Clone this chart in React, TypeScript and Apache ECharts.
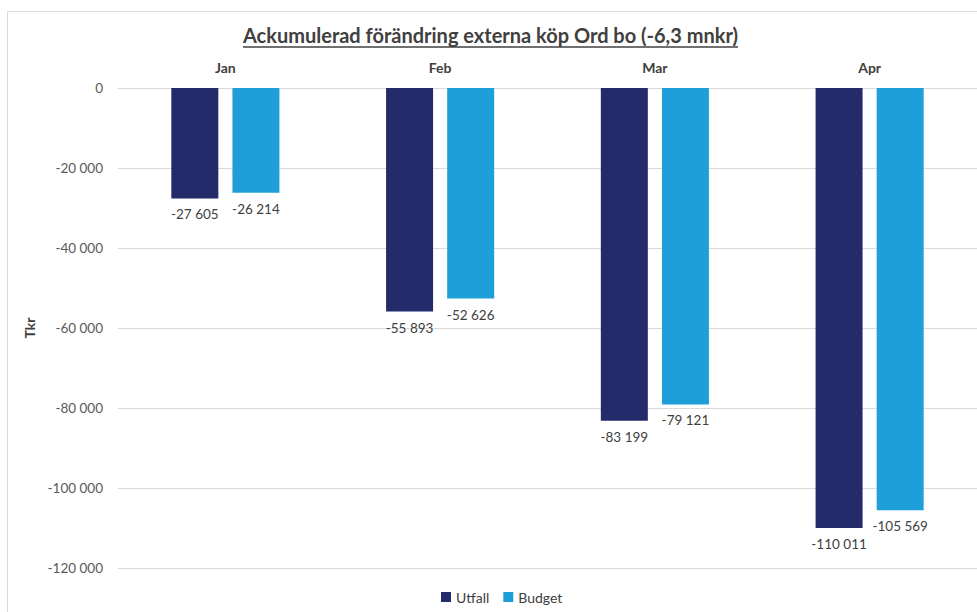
import React, { useEffect, useRef } from "react";
import * as echarts from "echarts";

const categories = ["Jan", "Feb", "Mar", "Apr"];
const utfall = [-27605, -55893, -83199, -110011];
const budget = [-26214, -52626, -79121, -105569];
const seriesNames = ["Utfall", "Budget"];
const titleText = "Ackumulerad förändring externa köp Ord bo (-6,3 mnkr)";
const yAxisName = "Tkr";

const FONT = "Lato";
const TITLE_SIZE = 20;

function fmt(v: number): string {
  const neg = v < 0;
  const s = Math.round(Math.abs(v)).toString();
  const grouped = s.replace(/\B(?=(\d{3})+(?!\d))/g, " ");
  return (neg ? "-" : "") + grouped;
}

export default function App() {
  const ref = useRef<HTMLDivElement>(null);
  useEffect(() => {
    if (!ref.current) return;
    const chart = echarts.init(ref.current, undefined, { renderer: "svg" });
    const ctx = document.createElement("canvas").getContext("2d");
    let tw = 500;
    if (ctx) {
      ctx.font = `bold ${TITLE_SIZE}px ${FONT}`;
      tw = ctx.measureText(titleText).width;
    }
    const cx = 490.5;
    const x0 = cx - tw / 2;
    const labelCommon = {
      show: true,
      position: "outside",
      distance: 9,
      fontSize: 13.5,
      color: "#404040",
      fontFamily: FONT,
      formatter: (p: any) => fmt(p.value),
    };
    chart.setOption({
      animation: false,
      backgroundColor: "#ffffff",
      textStyle: { fontFamily: FONT },
      graphic: [
        {
          type: "rect",
          shape: { x: 7.5, y: 11.5, width: 1100, height: 800 },
          style: { fill: "none", stroke: "#D9D9D9", lineWidth: 1 },
          silent: true,
        },
        {
          type: "text",
          x: cx,
          y: 35,
          style: {
            text: titleText,
            fontSize: TITLE_SIZE,
            fontWeight: "bold",
            fontFamily: FONT,
            fill: "#404040",
            align: "center",
            verticalAlign: "middle",
          },
          silent: true,
        },
        {
          type: "line",
          shape: { x1: x0, y1: 47, x2: x0 + tw, y2: 47 },
          style: { stroke: "#404040", lineWidth: 1.3 },
          silent: true,
        },
      ],
      legend: {
        data: seriesNames,
        top: 590,
        left: 441,
        padding: 0,
        itemWidth: 10,
        itemHeight: 10,
        itemGap: 14,
        icon: "rect",
        textStyle: { fontSize: 14, color: "#404040", fontFamily: FONT },
      },
      grid: { left: 118, right: 0, top: 88, bottom: 44, containLabel: false },
      xAxis: {
        type: "category",
        data: categories,
        position: "top",
        axisLine: { show: true, lineStyle: { color: "#D9D9D9" } },
        axisTick: { show: false },
        axisLabel: { fontSize: 14, fontWeight: "bold", color: "#404040", margin: 14, fontFamily: FONT },
      },
      yAxis: {
        type: "value",
        min: -120000,
        max: 0,
        interval: 20000,
        name: yAxisName,
        nameLocation: "middle",
        nameRotate: 90,
        nameGap: 78,
        nameTextStyle: { fontSize: 14, fontWeight: "bold", color: "#404040", fontFamily: FONT },
        axisLine: { show: false },
        axisTick: { show: false },
        splitLine: { lineStyle: { color: "#D9D9D9" } },
        axisLabel: { fontSize: 13.5, color: "#595959", margin: 15, formatter: (v: number) => fmt(v), fontFamily: FONT },
      },
      series: [
        {
          name: seriesNames[0],
          type: "bar",
          data: utfall,
          barWidth: 47,
          barGap: "30%",
          itemStyle: { color: "#232B6A" },
          label: labelCommon,
        },
        {
          name: seriesNames[1],
          type: "bar",
          data: budget,
          barWidth: 47,
          itemStyle: { color: "#1F9FDA" },
          label: labelCommon,
        },
      ],
    });
    return () => chart.dispose();
  }, []);
  return <div ref={ref} style={{ position: "absolute", left: 0, top: 0, width: 977, height: 612 }} />;
}
